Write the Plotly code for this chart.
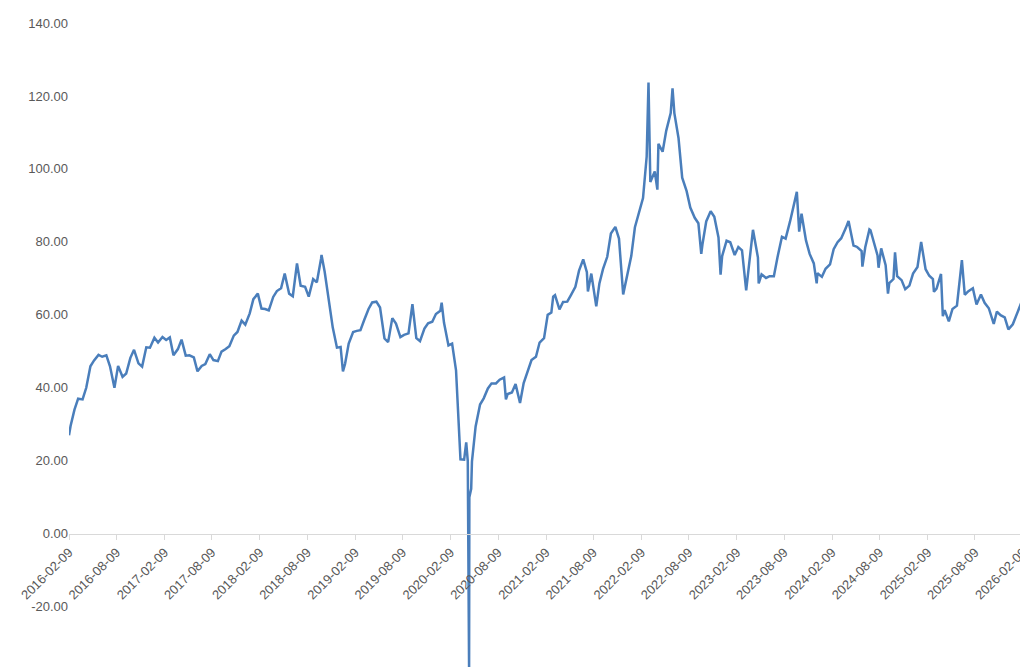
import plotly.graph_objects as go

# approximate daily-ish series (semi-monthly + key swings)
dates = [
    "2016-02-09", "2016-02-15", "2016-03-01", "2016-03-15", "2016-04-01", "2016-04-15", "2016-05-01", "2016-05-15",
    "2016-06-01", "2016-06-15", "2016-07-01", "2016-07-15", "2016-08-01", "2016-08-15", "2016-09-01", "2016-09-15",
    "2016-10-01", "2016-10-15", "2016-11-01", "2016-11-15", "2016-12-01", "2016-12-15",
    "2017-01-01", "2017-01-15", "2017-02-01", "2017-02-15", "2017-03-01", "2017-03-15", "2017-04-01", "2017-04-15",
    "2017-05-01", "2017-05-15", "2017-06-01", "2017-06-15", "2017-07-01", "2017-07-15", "2017-08-01", "2017-08-15",
    "2017-09-01", "2017-09-15", "2017-10-01", "2017-10-15", "2017-11-01", "2017-11-15", "2017-12-01", "2017-12-15",
    "2018-01-01", "2018-01-15", "2018-02-01", "2018-02-15", "2018-03-01", "2018-03-15", "2018-04-01", "2018-04-15",
    "2018-05-01", "2018-05-15", "2018-06-01", "2018-06-15", "2018-07-01", "2018-07-15", "2018-08-01", "2018-08-15",
    "2018-09-01", "2018-09-15", "2018-10-01", "2018-10-03", "2018-10-15", "2018-11-01", "2018-11-15", "2018-12-01",
    "2018-12-15", "2018-12-24",
    "2019-01-01", "2019-01-15", "2019-02-01", "2019-02-15", "2019-03-01", "2019-03-15", "2019-04-01", "2019-04-15",
    "2019-05-01", "2019-05-15", "2019-06-01", "2019-06-15", "2019-07-01", "2019-07-15", "2019-08-01", "2019-08-15",
    "2019-09-01", "2019-09-16", "2019-10-01", "2019-10-15", "2019-11-01", "2019-11-15", "2019-12-01", "2019-12-15",
    "2020-01-01", "2020-01-06", "2020-01-15", "2020-02-01", "2020-02-15", "2020-03-01", "2020-03-09", "2020-03-18",
    "2020-04-01", "2020-04-09", "2020-04-15", "2020-04-20", "2020-04-21", "2020-04-28", "2020-05-01", "2020-05-15",
    "2020-06-01", "2020-06-15", "2020-07-01", "2020-07-15", "2020-08-01", "2020-08-15", "2020-09-01", "2020-09-08",
    "2020-09-15", "2020-10-01", "2020-10-15", "2020-11-01", "2020-11-15", "2020-12-01", "2020-12-15",
    "2021-01-01", "2021-01-15", "2021-02-01", "2021-02-15", "2021-03-01", "2021-03-08", "2021-03-15", "2021-04-01",
    "2021-04-15", "2021-05-01", "2021-05-15", "2021-06-01", "2021-06-15", "2021-07-01", "2021-07-15", "2021-07-19",
    "2021-08-01", "2021-08-20", "2021-09-01", "2021-09-15", "2021-10-01", "2021-10-15", "2021-11-01", "2021-11-15",
    "2021-12-01", "2021-12-15",
    "2022-01-01", "2022-01-15", "2022-02-01", "2022-02-15", "2022-03-01", "2022-03-08", "2022-03-15", "2022-04-01",
    "2022-04-11", "2022-04-15", "2022-05-01", "2022-05-15", "2022-06-01", "2022-06-08", "2022-06-15", "2022-07-01",
    "2022-07-15", "2022-08-01", "2022-08-15", "2022-09-01", "2022-09-15", "2022-09-26", "2022-10-01", "2022-10-15",
    "2022-11-01", "2022-11-15", "2022-12-01", "2022-12-09", "2022-12-15",
    "2023-01-01", "2023-01-15", "2023-02-01", "2023-02-15", "2023-03-01", "2023-03-17", "2023-04-01", "2023-04-12",
    "2023-05-01", "2023-05-04", "2023-05-15", "2023-06-01", "2023-06-15", "2023-07-01", "2023-07-15", "2023-08-01",
    "2023-08-15", "2023-09-01", "2023-09-27", "2023-10-06", "2023-10-15", "2023-11-01", "2023-11-15", "2023-12-01",
    "2023-12-12", "2023-12-15",
    "2024-01-01", "2024-01-15", "2024-02-01", "2024-02-15", "2024-03-01", "2024-03-15", "2024-04-01", "2024-04-12",
    "2024-05-01", "2024-05-15", "2024-06-01", "2024-06-04", "2024-06-15", "2024-07-01", "2024-07-05", "2024-07-15",
    "2024-08-01", "2024-08-05", "2024-08-15", "2024-09-01", "2024-09-10", "2024-09-15", "2024-10-01", "2024-10-07",
    "2024-10-15", "2024-11-01", "2024-11-15", "2024-12-01", "2024-12-15",
    "2025-01-01", "2025-01-15", "2025-02-01", "2025-02-15", "2025-03-01", "2025-03-05", "2025-03-15", "2025-04-01",
    "2025-04-08", "2025-04-15", "2025-05-01", "2025-05-15", "2025-06-01", "2025-06-20", "2025-07-01", "2025-07-15",
    "2025-08-01", "2025-08-15", "2025-09-01", "2025-09-15", "2025-10-01", "2025-10-20", "2025-11-01", "2025-11-15",
    "2025-12-01", "2025-12-15",
    "2026-01-01", "2026-01-15", "2026-02-01", "2026-02-09",
]
prices = [
    27.0, 29.5, 34.0, 37.0, 36.8, 40.0, 45.9, 47.5,
    49.0, 48.5, 48.9, 45.9, 40.0, 46.0, 43.0, 43.9,
    48.2, 50.4, 46.7, 45.8, 51.1, 51.0,
    53.7, 52.4, 53.9, 53.1, 53.8, 48.9, 50.6, 53.2,
    48.8, 48.9, 48.3, 44.5, 46.0, 46.5, 49.2, 47.6,
    47.3, 49.9, 50.6, 51.4, 54.3, 55.3, 58.4, 57.3,
    60.4, 64.3, 65.8, 61.7, 61.6, 61.2, 64.9, 66.5,
    67.3, 71.3, 65.8, 65.1, 74.1, 68.0, 67.7, 65.0,
    69.8, 68.9, 75.3, 76.4, 71.8, 63.7, 56.5, 51.0,
    51.2, 44.5,
    46.5, 52.1, 55.3, 55.6, 55.8, 58.5, 61.6, 63.4,
    63.6, 62.0, 53.5, 52.5, 59.1, 57.6, 53.9, 54.5,
    54.9, 62.9, 53.6, 52.8, 56.2, 57.7, 58.1, 60.2,
    61.1, 63.3, 57.8, 51.6, 52.1, 44.8, 31.1, 20.4,
    20.3, 25.0, 19.9, -37.6, 10.0, 12.3, 19.8, 29.4,
    35.4, 37.1, 39.8, 41.2, 41.2, 42.2, 42.8, 36.8,
    38.3, 38.7, 41.0, 35.8, 41.3, 44.6, 47.6,
    48.5, 52.4, 53.6, 60.0, 60.6, 65.0, 65.4, 61.5,
    63.5, 63.6, 65.4, 67.7, 72.1, 75.2, 71.7, 66.4,
    71.3, 62.3, 68.6, 72.6, 75.9, 82.3, 84.1, 80.9,
    65.6, 70.7,
    76.1, 84.0, 88.2, 92.0, 103.4, 123.7, 96.4, 99.3,
    94.3, 106.9, 104.7, 110.5, 115.3, 122.1, 115.3, 108.4,
    97.6, 93.9, 89.4, 86.6, 85.1, 76.7, 79.5, 85.6,
    88.4, 86.9, 81.2, 71.0, 76.1,
    80.3, 79.9, 76.4, 78.6, 77.7, 66.7, 75.7, 83.3,
    75.7, 68.6, 71.1, 70.1, 70.6, 70.6, 75.8, 81.4,
    80.9, 85.6, 93.7, 82.8, 87.7, 80.4, 76.7, 74.1,
    68.6, 71.4,
    70.4, 72.6, 73.8, 78.0, 79.9, 81.0, 83.7, 85.7,
    79.0, 78.6, 77.5, 73.2, 78.5, 83.4, 83.2, 80.8,
    76.3, 72.9, 78.2, 73.6, 65.8, 68.7, 69.8, 77.1,
    70.6, 69.5, 67.0, 68.0, 71.3,
    73.1, 80.0, 72.5, 70.7, 69.8, 66.3, 67.2, 71.2,
    59.6, 61.3, 58.2, 61.6, 62.5, 75.0, 65.5, 66.5,
    67.3, 62.8, 65.6, 63.3, 61.8, 57.5, 60.9, 59.9,
    59.3, 56.0,
    57.4, 60.0, 63.0, 64.5,
]

tick_dates = [f"{y}-{m}-09" for y in range(2016, 2026) for m in ("02", "08")] + ["2026-02-09"]
y_ticks = [-20, 0, 20, 40, 60, 80, 100, 120, 140]

y_min, y_max = -38.2, 140

fig = go.Figure()
fig.add_trace(go.Scatter(
    x=dates, y=prices, mode="lines",
    line=dict(color="#4a7ebb", width=2.5),
))

fig.update_layout(
    width=1028, height=667,
    margin=dict(l=61, r=13, t=15, b=2),
    plot_bgcolor="white", paper_bgcolor="white",
    showlegend=False,
    font=dict(family="Liberation Sans", size=13, color="#595959"),
)
fig.update_yaxes(
    range=[y_min, y_max], tickvals=y_ticks,
    ticktext=[f"{v:.2f}" for v in y_ticks],
    showgrid=False, zeroline=False, showline=False,
    automargin=False,
)
fig.update_xaxes(
    type="date", range=["2016-02-09", "2026-02-09"],
    tickvals=tick_dates, ticktext=tick_dates, tickangle=-45,
    anchor="free", position=(0 - y_min) / (y_max - y_min),
    showline=True, linecolor="#d9d9d9", linewidth=1,
    ticks="outside", ticklen=5, tickcolor="#d9d9d9",
    showgrid=False, zeroline=False, automargin=False,
)

fig.write_html("out.html")
